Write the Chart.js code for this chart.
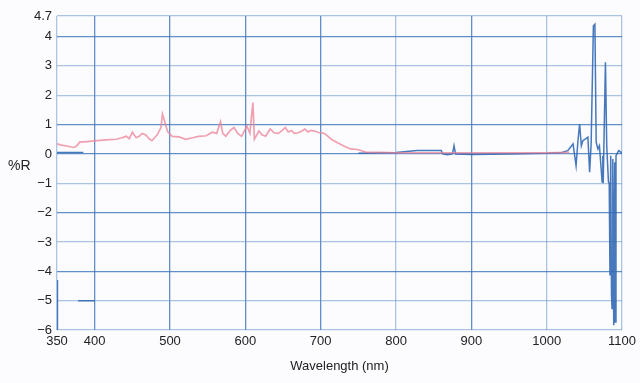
<!DOCTYPE html>
<html>
<head>
<meta charset="utf-8">
<script src="https://cdn.jsdelivr.net/npm/chart.js"></script>
<style>
  html, body { margin: 0; padding: 0; background: #fcfcfe; }
  #wrap { width: 640px; height: 383px; position: relative; }
</style>
</head>
<body>
<div id="wrap"><canvas id="chart" width="640" height="383"></canvas></div>
<script>
// tick positions
const xTicks = [350, 400, 500, 600, 700, 800, 900, 1000, 1100];
const yTicks = [4.7, 4, 3, 2, 1, 0, -1, -2, -3, -4, -5, -6];

// red trace
const redX = [350, 356, 363, 372, 376, 380, 390, 403, 415, 429, 436, 442, 446, 450, 455, 459, 463, 468, 472, 476,
  483, 488, 490, 492, 494, 497, 503, 512, 521, 530, 538, 548, 556, 562, 567, 570, 574, 580, 585, 590,
  595, 602, 606, 610, 612, 618, 622, 627, 633, 638, 644, 649, 653, 657, 661, 665, 670, 675, 679, 683,
  687, 692, 697, 702, 706, 714, 723, 732, 740, 749, 760, 780, 800, 830, 870, 900, 950, 1000, 1030];
const redY = [0.34, 0.3, 0.27, 0.22, 0.27, 0.4, 0.42, 0.45, 0.48, 0.5, 0.55, 0.6, 0.52, 0.74, 0.55, 0.6, 0.7, 0.65, 0.52, 0.45,
  0.65, 0.9, 1.36, 1.2, 1.0, 0.75, 0.6, 0.58, 0.5, 0.55, 0.6, 0.62, 0.74, 0.7, 1.1, 0.7, 0.6, 0.8, 0.9, 0.7,
  0.6, 0.95, 0.7, 1.75, 0.5, 0.78, 0.65, 0.6, 0.85, 0.72, 0.7, 0.8, 0.9, 0.75, 0.8, 0.7, 0.72, 0.78, 0.85, 0.75,
  0.8, 0.78, 0.73, 0.72, 0.68, 0.5, 0.37, 0.25, 0.17, 0.15, 0.06, 0.05, 0.04, 0.04, 0.04, 0.04, 0.04, 0.04, 0.05];

// blue trace, null breaks the line
const blueX = [350, 350.6, 351, 378, 400, 401, 350, 385, 386,
  750, 800, 828, 860, 862, 868, 875, 877, 879, 900, 950, 1000, 1020, 1028, 1035, 1039, 1041.5, 1043.7, 1046,
  1048, 1051.6, 1054.7, 1057, 1059, 1062, 1064, 1065.7, 1068, 1070, 1073.6, 1074.5, 1075, 1078, 1079.7,
  1082, 1083, 1084, 1085, 1086, 1086.8, 1087.5, 1088, 1089, 1090.3, 1091, 1092, 1095.6, 1100];
const blueY = [-4.3, -6.0, null, -5.0, -5.0, null, 0.05, 0.05, null,
  0.02, 0.05, 0.12, 0.12, 0.0, -0.03, 0.0, 0.28, 0.0, -0.02, 0.0, 0.02, 0.05, 0.11, 0.34, -0.4, 0.45, 1.02, 0.28,
  0.45, 0.51, 0.57, -0.62, 0.34, 4.36, 4.42, 0.4, 0.17, 0.28, -0.96, -0.06, -1.0, 3.12, 0.28,
  -0.96, -1.0, -4.14, -0.06, -4.8, -5.27, -1.2, -0.17, -5.84, -0.28, -5.73, -0.06, 0.11, 0.03];

const toPoints = (xs, ys) => xs.map((x, i) => ({ x: x, y: ys[i] }));

const darkX = [400, 500, 600, 700, 900];
const darkY = [4, 1, 0, -2, -4];

const yTitle = {
  id: 'yTitle',
  afterDraw(chart) {
    const ctx = chart.ctx;
    ctx.save();
    ctx.font = '14px "Liberation Sans", Arial, sans-serif';
    ctx.fillStyle = '#222';
    ctx.textAlign = 'left';
    ctx.textBaseline = 'middle';
    ctx.fillText('%R', 8, 166);
    ctx.restore();
  }
};

new Chart(document.getElementById('chart'), {
  type: 'line',
  data: {
    datasets: [
      {
        data: toPoints(redX, redY),
        borderColor: 'rgba(236,130,150,0.75)',
        borderWidth: 1.7,
        pointRadius: 0,
        tension: 0
      },
      {
        data: toPoints(blueX, blueY),
        borderColor: 'rgba(50,105,180,0.9)',
        borderWidth: 1.5,
        pointRadius: 0,
        tension: 0,
        spanGaps: false
      }
    ]
  },
  options: {
    responsive: false,
    animation: false,
    layout: { padding: { top: 16, right: 13, left: 0, bottom: 0 } },
    plugins: { legend: { display: false }, tooltip: { enabled: false } },
    scales: {
      x: {
        type: 'linear',
        min: 350,
        max: 1100,
        afterBuildTicks: s => { s.ticks = xTicks.map(v => ({ value: v })); },
        afterFit: s => { s.height = 53; },
        ticks: {
          autoSkip: false,
          maxRotation: 0,
          padding: 4,
          color: '#222',
          font: { family: '"Liberation Sans", Arial, sans-serif', size: 13 },
          callback: v => String(v)
        },
        grid: {
          color: c => darkX.includes(c.tick && c.tick.value) ? 'rgba(60,115,185,0.8)' : 'rgba(90,140,200,0.5)',
          lineWidth: 1.3,
          drawTicks: false
        },
        border: { display: false },
        title: {
          display: true,
          text: 'Wavelength (nm)',
          color: '#222',
          font: { family: '"Liberation Sans", Arial, sans-serif', size: 13 },
          padding: { top: 0, bottom: 9 }
        }
      },
      y: {
        min: -6,
        max: 4.7,
        afterBuildTicks: s => { s.ticks = yTicks.map(v => ({ value: v })); },
        afterFit: s => { s.width = 57; },
        ticks: {
          autoSkip: false,
          padding: 5,
          color: '#222',
          font: { family: '"Liberation Sans", Arial, sans-serif', size: 13 },
          callback: v => String(v).replace('-', '\u2212')
        },
        grid: {
          color: c => darkY.includes(c.tick && c.tick.value) ? 'rgba(60,115,185,0.8)' : 'rgba(90,140,200,0.5)',
          lineWidth: 1.3,
          drawTicks: false
        },
        border: { display: false }
      }
    }
  },
  plugins: [yTitle]
});
</script>
</body>
</html>
